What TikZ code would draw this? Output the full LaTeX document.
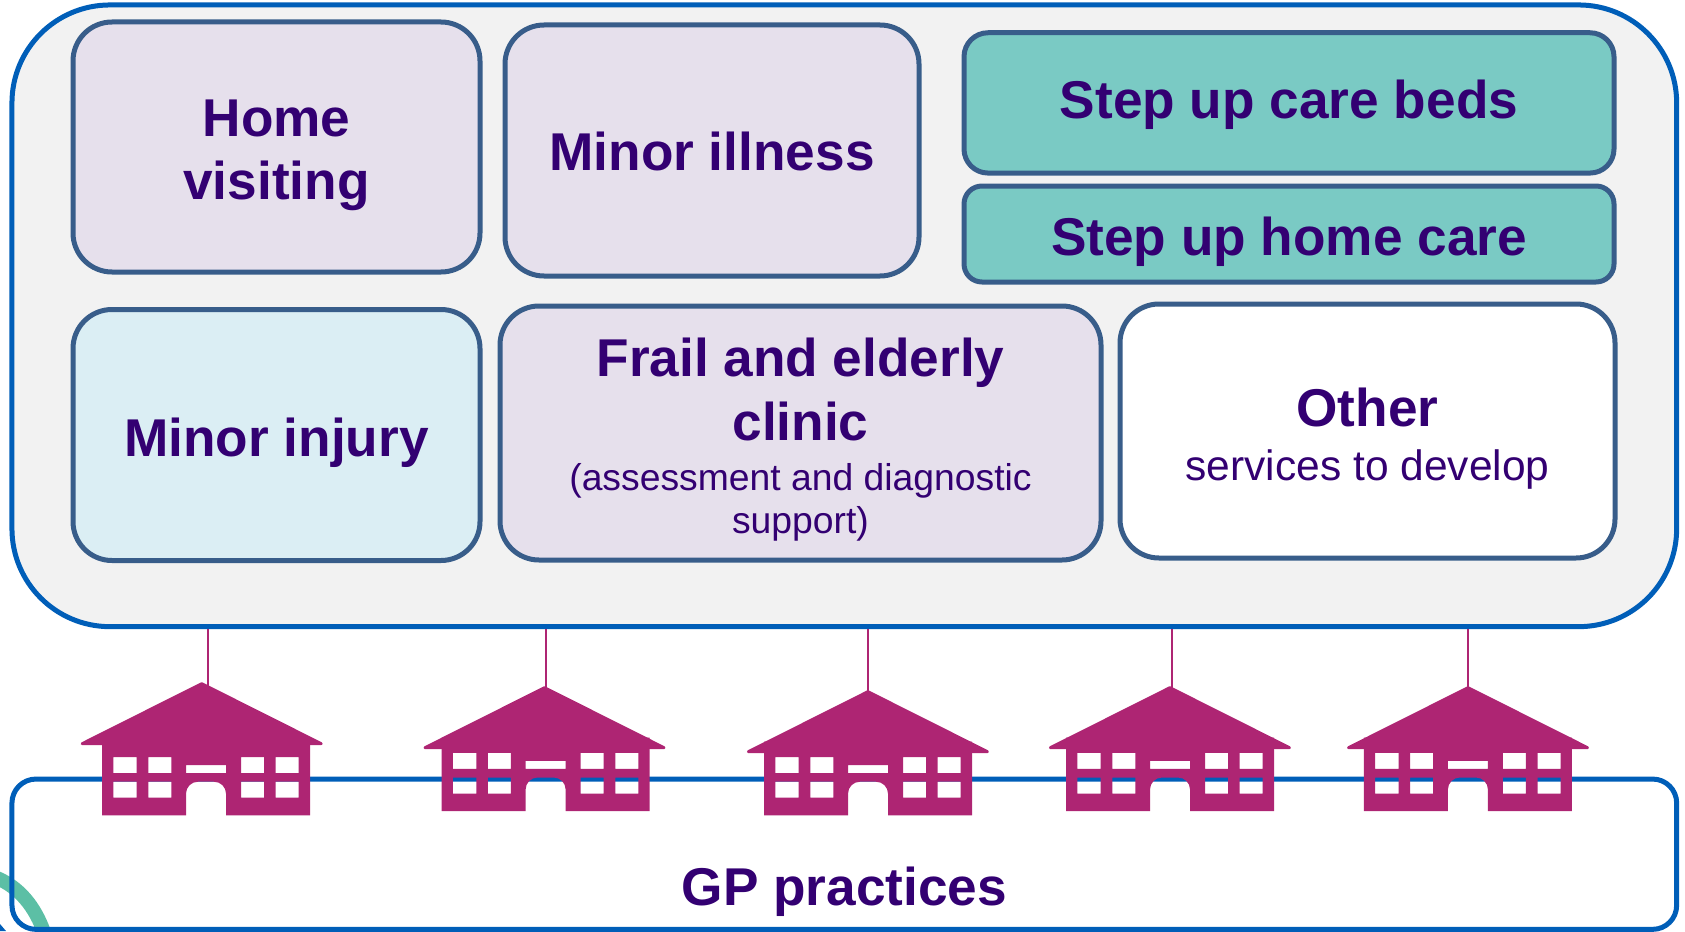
\documentclass[tikz,border=0pt]{standalone}
\usepackage{fontspec}
\setmainfont{Liberation Sans}
\definecolor{nhsblue}{HTML}{005EB8}
\definecolor{boxedge}{HTML}{385D8A}
\definecolor{inkpurple}{HTML}{330072}
\definecolor{panelgrey}{HTML}{F2F2F2}
\definecolor{lavender}{HTML}{E6E0EC}
\definecolor{paleblue}{HTML}{DBEEF4}
\definecolor{stepteal}{HTML}{7ACAC4}
\definecolor{housepink}{HTML}{AE2573}
\definecolor{swooshgreen}{HTML}{5CBFA5}
\newcommand{\headfont}{\fontsize{53.2}{63}\selectfont\bfseries}
\newcommand{\subfont}{\fontsize{42.5}{50}\selectfont\mdseries}
\newcommand{\notefont}{\fontsize{37.3}{44}\selectfont\mdseries}
\tikzset{
  panel/.style={draw=nhsblue,line width=5pt,rectangle},
  service/.style={draw=boxedge,line width=5pt,rounded corners=39pt,inner sep=0pt},
  stepbox/.style={service,fill=stepteal,rounded corners=24pt},
  heading/.style={align=center,text=inkpurple,font=\headfont,inner sep=0pt},
  link/.style={draw=housepink,line width=2pt},
  roof/.pic={
    \draw[housepink,fill=housepink,line width=3pt,line join=round]
      (0,2) -- (119.5,62) -- (-119.5,62) -- cycle;
  },
  surgery/.pic={
    \fill[housepink,even odd rule]
      (-99.7,60) -- (108.3,60) -- (108.3,133.7) -- (24.3,133.7)
      [rounded corners=12pt] -- (24.3,100) -- (-15.7,100) [sharp corners] -- (-15.7,133.7)
      -- (-99.7,133.7) -- cycle
      (-88.4,75.3) rectangle (-65,91.3)
      (-53.4,75.3) rectangle (-30.4,91.3)
      (39.3,75.3) rectangle (62.3,91.3)
      (74,75.3) rectangle (97,91.3)
      (-88.4,100) rectangle (-65,116)
      (-53.4,100) rectangle (-30.4,116)
      (39.3,100) rectangle (62.3,116)
      (74,100) rectangle (97,116)
      (-15.7,83.3) rectangle (24.3,91.3);
  }
}
\begin{document}
\begin{tikzpicture}[x=1pt,y=-1pt]
  \useasboundingbox (0,0) rectangle (1685,931);
  % swoosh behind the lower box
  \draw[swooshgreen,line width=14pt] (-3,878) .. controls (18,887) and (35,905) .. (45,935);
  \fill[nhsblue] (0,924) -- (6,931) -- (0,931) -- cycle;

  \node[panel,rounded corners=24pt,minimum width=1664.7pt,minimum height=150.3pt] (gp) at (844.3,854.2) {};
  \node[heading] (gplabel) at (844.5,891.4) {GP practices};
  \node[panel,fill=panelgrey,rounded corners=98pt,minimum width=1664.7pt,minimum height=621.7pt] (services) at (844.3,315.8) {};

  \node[service,fill=lavender,minimum width=407pt,minimum height=250pt] (homevisiting) at (276.5,147) {};
  \node[service,fill=lavender,minimum width=414pt,minimum height=251pt] (minorillness) at (712,150.5) {};
  \node[stepbox,minimum width=650pt,minimum height=140.3pt] (stepbeds) at (1289,102.9) {};
  \node[stepbox,rounded corners=18pt,minimum width=650pt,minimum height=96pt] (stephome) at (1289,234) {};
  \node[service,fill=paleblue,minimum width=407pt,minimum height=251pt] (minorinjury) at (276.5,435) {};
  \node[service,fill=lavender,minimum width=601pt,minimum height=254pt] (frail) at (800.5,433) {};
  \node[service,fill=white,minimum width=495pt,minimum height=254pt] (other) at (1367.5,431) {};

  \node[heading,yshift=-8.5pt] (homelabel) at (homevisiting) {Home\\visiting};
  \node[heading,yshift=-1pt] (illnesslabel) at (minorillness) {Minor illness};
  \node[heading,yshift=-2pt] (bedslabel) at (stepbeds) {Step up care beds};
  \node[heading,yshift=-7.5pt] (carelabel) at (stephome) {Step up home care};
  \node[heading,yshift=-7.5pt] (injurylabel) at (minorinjury) {Minor injury};
  \node[heading,yshift=-6.5pt] (fraillabel) at (frail)
    {Frail and elderly\\[1pt]clinic\\[-13pt]{\notefont (assessment and diagnostic}\\[-20pt]{\notefont support)}};
  \node[heading,yshift=-7.5pt] (otherlabel) at (other)
    {Other\\[-9pt]{\subfont services to develop}};

  \coordinate (roof1) at (208,686);
  \coordinate (roof2) at (546,688);
  \coordinate (roof3) at (867.9,692);
  \coordinate (roof4) at (1172,688);
  \coordinate (roof5) at (1468,688);
  \draw[link] (roof1 |- services.south) to (roof1);
  \draw[link] (roof2 |- services.south) to (roof2);
  \draw[link] (roof3 |- services.south) to (roof3);
  \draw[link] (roof4 |- services.south) to (roof4);
  \draw[link] (roof5 |- services.south) to (roof5);

  \pic (surgery1) at (201.7,681.7) {surgery};
  \pic (surgery2) at (541.3,677.5) {surgery};
  \pic (surgery3) at (863.7,681.7) {surgery};
  \pic (surgery4) at (1165.7,677.5) {surgery};
  \pic (surgery5) at (1463.6,677.5) {surgery};
  \pic (roofing1) at (201.7,681.7) {roof};
  \pic (roofing2) at (544.5,685.7) {roof};
  \pic (roofing3) at (867.9,689.7) {roof};
  \pic (roofing4) at (1169.9,685.7) {roof};
  \pic (roofing5) at (1468,685.7) {roof};
\end{tikzpicture}
\end{document}
